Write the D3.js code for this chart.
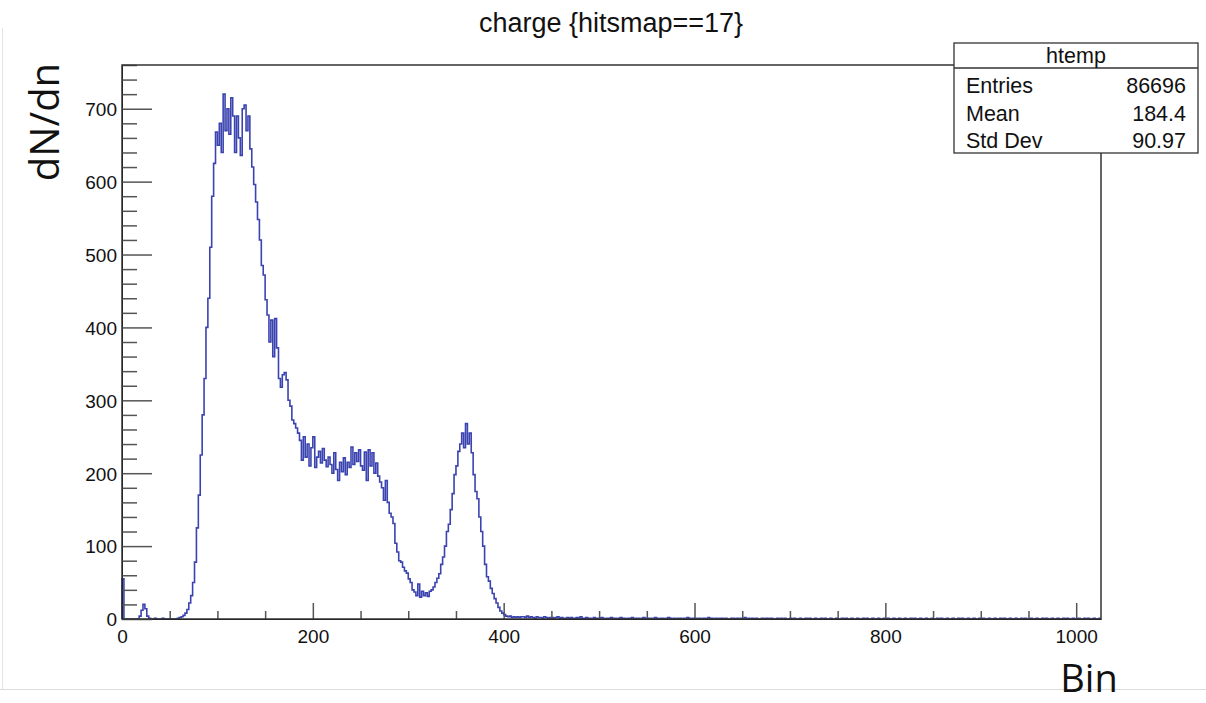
<!DOCTYPE html>
<html><head><meta charset="utf-8">
<script src="https://cdn.jsdelivr.net/npm/d3@7"></script>
<style>
html,body{margin:0;padding:0;background:#fff;}
svg{display:block;}
</style></head>
<body>
<svg id="c" width="1206" height="703"></svg>
<script>
// ---- data ----
const title = "charge {hitsmap==17}";
const yLabel = "dN/dn";
const xLabel = "Bin";
const binWidth = 2;
const xDomain = [0, 1026];
const yDomain = [0, 760];
const xMajorTicks = [0, 200, 400, 600, 800, 1000];
const yMajorTicks = [0, 100, 200, 300, 400, 500, 600, 700];
const statsTitle = "htemp";
const statsNames = ["Entries", "Mean", "Std Dev"];
const statsValues = ["86696", "184.4", "90.97"];

// bin contents, bins of width 2 from 0 to 420
const countsLow = [
  55,0,0,0,0,0,0,0,0,4,12,20,14,4,1,
  0,0,1,0,0,0,1,0,0,0,0,0,0,0,1,
  2,3,5,8,13,22,32,50,78,125,170,225,280,330,400,440,510,580,625,668,
  650,680,640,720,670,700,665,715,690,640,690,660,636,700,705,670,690,645,620,596,
  572,548,520,485,472,438,417,380,410,360,412,372,330,318,335,338,328,300,292,273,
  268,262,255,245,218,250,222,240,210,235,250,208,222,230,214,234,218,209,222,212,
  200,228,205,190,215,202,221,198,215,208,236,212,228,216,232,210,204,229,190,232,
  210,228,200,214,196,188,180,163,190,160,145,140,131,104,92,80,78,71,66,63,
  55,50,40,37,32,48,30,38,32,36,31,38,40,44,50,56,62,75,85,100,
  120,130,150,172,198,210,230,240,255,235,268,240,255,228,198,175,165,140,120,100,
  75,58,52,42,35,28,22,16,11,8,6,4,3,4,2,3,2,3,2,3
];
// bin contents, bins of width 2 from 420 to 1026
const countsTail = [
  3,2,4,2,3,2,1,3,2,2,1,3,2,1,2,2,1,2,3,1,
  2,1,1,2,1,2,1,1,2,1,3,1,1,2,1,1,0,2,1,1,
  1,2,1,0,1,1,2,1,1,0,1,2,1,1,0,1,1,2,0,1,
  1,0,1,2,1,0,1,1,0,2,1,0,1,1,0,1,2,1,0,1,
  0,1,1,0,1,0,2,1,0,1,1,0,1,0,1,1,0,2,0,1,
  0,1,0,1,1,0,1,0,0,1,1,0,1,0,1,0,2,0,1,0,
  1,0,1,0,0,1,0,1,1,0,1,0,0,1,0,1,0,1,0,0,
  1,0,1,0,0,1,0,0,1,0,1,0,0,1,0,0,1,0,1,0,
  0,1,0,0,1,0,0,1,0,1,0,0,1,0,0,1,0,0,1,0,
  1,0,0,1,0,0,1,0,0,1,0,1,0,0,1,0,0,1,0,0,
  1,0,0,1,0,1,0,0,1,0,0,1,0,0,1,0,0,1,0,1,
  0,0,1,0,0,1,0,0,1,0,1,0,0,1,0,0,1,0,0,1,
  0,1,0,0,1,0,0,1,0,0,1,0,1,0,0,1,0,0,1,0,
  0,1,0,1,0,0,1,0,0,1,0,0,1,0,1,0,0,1,0,0,
  1,0,0,1,0,1,0,0,1,0,0,1,0,0,1,0,1,0,0,1,
  0,0,1
];

// ---- layout ----
const svg = d3.select("#c");
const frame = {left: 122, right: 1101, top: 65, bottom: 619};
const x = d3.scaleLinear().domain(xDomain).range([frame.left, frame.right]);
const y = d3.scaleLinear().domain(yDomain).range([frame.bottom, frame.top]);
const font = "'Liberation Sans', Arial, Helvetica, sans-serif";

// page decorations (screenshot borders)
svg.append("line").attr("x1",0).attr("x2",1206).attr("y1",689.5).attr("y2",689.5)
  .attr("stroke","#dcdcdc").attr("stroke-width",1);
svg.append("line").attr("x1",2.5).attr("x2",2.5).attr("y1",28).attr("y2",689)
  .attr("stroke","#e4e4e4").attr("stroke-width",1);

// histogram
const counts = countsLow.concat(countsTail);
const pts = [[xDomain[0], 0]];
counts.forEach((v, i) => pts.push([i * binWidth, v]));
pts.push([Math.min(counts.length * binWidth, xDomain[1]), counts[counts.length - 1]]);
const line = d3.line().x(d => x(d[0])).y(d => y(d[1])).curve(d3.curveStepAfter);
svg.append("path").attr("d", line(pts)).attr("fill","none")
  .attr("stroke","#3a43b0").attr("stroke-width",1.6).attr("stroke-linejoin","miter");

// axes
const xMinor = d3.range(0, xDomain[1] + 1, 50).filter(v => v % 200 !== 0);
const yMinor = d3.range(0, yDomain[1] + 1, 20).filter(v => v % 100 !== 0);

const gx = svg.append("g").attr("transform", `translate(0,${frame.bottom})`);
gx.call(d3.axisBottom(x).tickValues(xMajorTicks).tickSize(-16).tickSizeOuter(0).tickPadding(24).tickFormat(d3.format("d")));
gx.append("g").call(d3.axisBottom(x).tickValues(xMinor).tickSize(-8).tickSizeOuter(0).tickFormat(""))
  .select(".domain").remove();

const gy = svg.append("g").attr("transform", `translate(${frame.left},0)`);
gy.call(d3.axisLeft(y).tickValues(yMajorTicks).tickSize(-30).tickSizeOuter(0).tickPadding(5).tickFormat(d3.format("d")));
gy.append("g").call(d3.axisLeft(y).tickValues(yMinor).tickSize(-15).tickSizeOuter(0).tickFormat(""))
  .select(".domain").remove();

svg.selectAll(".tick line").attr("stroke", "#555").attr("stroke-width", 1.5);
svg.selectAll(".tick text").attr("font-family", font).attr("font-size", 19).attr("fill", "#111");
gx.selectAll(".tick text").attr("dy", "0");
gy.selectAll(".tick text").attr("dy", "0.36em");

// frame
svg.append("rect").attr("x", frame.left).attr("y", frame.top)
  .attr("width", frame.right - frame.left).attr("height", frame.bottom - frame.top)
  .attr("fill","none").attr("stroke","#333").attr("stroke-width",1.5);

// title
svg.append("text").attr("x", 611).attr("y", 32).attr("text-anchor","middle")
  .attr("font-family", font).attr("font-size", 27).attr("fill","#111").text(title);

// stats box
const sb = {x: 954, y: 43, w: 244, h: 110, head: 25};
svg.append("rect").attr("x", sb.x).attr("y", sb.y).attr("width", sb.w).attr("height", sb.h)
  .attr("fill","#fff").attr("stroke","#333").attr("stroke-width",1.3);
svg.append("line").attr("x1", sb.x).attr("x2", sb.x + sb.w).attr("y1", sb.y + sb.head).attr("y2", sb.y + sb.head)
  .attr("stroke","#333").attr("stroke-width",1.3);
svg.append("text").attr("x", sb.x + sb.w/2).attr("y", sb.y + 20).attr("text-anchor","middle")
  .attr("font-family", font).attr("font-size", 21.5).attr("fill","#111").text(statsTitle);
statsNames.forEach((n, i) => {
  const yy = sb.y + 50 + i * 27.5;
  svg.append("text").attr("x", sb.x + 12).attr("y", yy).attr("font-family", font)
    .attr("font-size", 21.5).attr("fill","#111").text(n);
  svg.append("text").attr("x", sb.x + sb.w - 12).attr("y", yy).attr("text-anchor","end")
    .attr("font-family", font).attr("font-size", 21.5).attr("fill","#111").text(statsValues[i]);
});

// axis titles
svg.append("text").attr("transform","translate(59,122) rotate(-90)").attr("text-anchor","middle")
  .attr("font-family","'Open Sans', 'Noto Sans', sans-serif").attr("font-size", 40).attr("fill","#111").text(yLabel);
svg.append("text").attr("x", 1089).attr("y", 692).attr("text-anchor","middle")
  .attr("font-family","'Open Sans', 'Noto Sans', sans-serif").attr("font-size", 38).attr("fill","#111").text(xLabel);
</script>
</body></html>
